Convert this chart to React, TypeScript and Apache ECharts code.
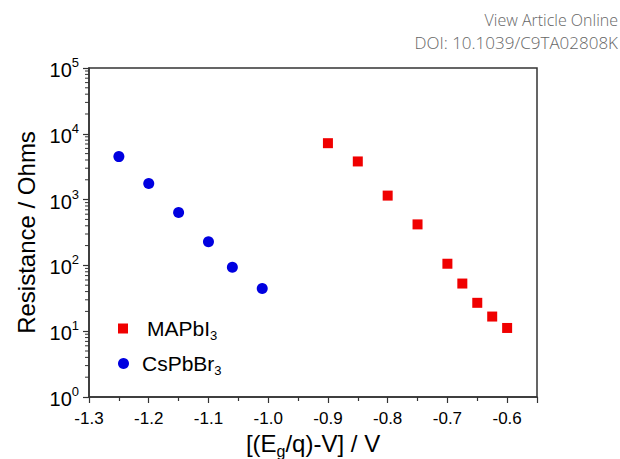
import React, { useEffect, useRef } from "react";
import * as echarts from "echarts";

const mapX = [-0.9, -0.85, -0.8, -0.75, -0.7, -0.675, -0.65, -0.625, -0.6];
const mapY = [7200, 3800, 1150, 420, 106, 53, 27, 16.7, 11.2];
const csX = [-1.25, -1.2, -1.15, -1.1, -1.06, -1.01];
const csY = [4500, 1750, 635, 228, 94, 44.5];
const seriesNames = ["MAPbI3", "CsPbBr3"];
const xMin = -1.3;
const xMax = -0.55;
const yMin = 1;
const yMax = 100000;
const minorMultipliers = [2, 3, 4, 5, 6, 7, 8, 9];
const decades = [1, 10, 100, 1000, 10000];

const FONT = "Liberation Sans, Arial, Helvetica";
const HEAD_FONT = "Open Sans, Lato, sans-serif";

export default function App() {
  const ref = useRef<HTMLDivElement>(null);
  useEffect(() => {
    if (!ref.current) return;
    const chart = echarts.init(ref.current, null, { renderer: "svg" });
    const minorY: number[][] = [];
    decades.forEach((d) => minorMultipliers.forEach((m) => minorY.push([xMin, m * d])));
    const legendRich = {
      t: { fontSize: 21, fontFamily: FONT, color: "#000" },
      sub: { fontSize: 13, fontFamily: FONT, color: "#000", verticalAlign: "top", padding: [14, 0, 0, 0] },
    };
    chart.setOption({
      animation: false,
      backgroundColor: "#fff",
      textStyle: { fontFamily: FONT },
      grid: {
        left: 89,
        top: 68,
        right: 83,
        bottom: 62,
        containLabel: false,
        outerBoundsMode: "none",
        show: true,
        borderColor: "#333",
        borderWidth: 1.5,
      },
      legend: [
        {
          orient: "vertical",
          left: 113,
          top: 313,
          itemWidth: 10,
          itemHeight: 10,
          data: [{ name: seriesNames[0], icon: "rect" }],
          formatter: () => "{t|MAPbI}{sub|3}",
          textStyle: { color: "#000", fontFamily: FONT, padding: [0, 0, 0, 14], rich: legendRich },
        },
        {
          orient: "vertical",
          left: 113,
          top: 348,
          itemWidth: 11,
          itemHeight: 11,
          data: [{ name: seriesNames[1], icon: "circle" }],
          formatter: () => "{t|CsPbBr}{sub|3}",
          textStyle: { color: "#000", fontFamily: FONT, padding: [0, 0, 0, 8], rich: legendRich },
        },
      ],
      xAxis: {
        type: "value",
        min: xMin,
        max: xMax,
        interval: 0.1,
        name: "{m|[(E}{s|g}{m|/q)-V] / V}",
        nameLocation: "middle",
        nameGap: 25,
        nameTextStyle: {
          rich: {
            m: { fontSize: 24, fontFamily: FONT, color: "#000" },
            s: { fontSize: 16, fontFamily: FONT, color: "#000", verticalAlign: "top", padding: [16, 0, 0, 0] },
          },
        },
        axisLine: { show: true, onZero: false, lineStyle: { color: "#333", width: 1.5 } },
        axisTick: { show: true, inside: false, length: 6, lineStyle: { color: "#333", width: 1.2 } },
        minorTick: { show: true, splitNumber: 2, length: 4, lineStyle: { color: "#333", width: 1.2 } },
        splitLine: { show: false },
        axisLabel: {
          fontSize: 17,
          color: "#000",
          fontFamily: FONT,
          margin: 13,
          formatter: (v: number) => {
            if (Math.abs(v * 10 - Math.round(v * 10)) > 1e-6) return "";
            return v.toFixed(1);
          },
        },
      },
      yAxis: {
        type: "log",
        logBase: 10,
        min: yMin,
        max: yMax,
        name: "Resistance / Ohms",
        nameLocation: "middle",
        nameGap: 49,
        nameTextStyle: { fontSize: 24, fontFamily: FONT, color: "#000" },
        axisLine: { show: true, lineStyle: { color: "#333", width: 1.5 } },
        axisTick: { show: true, inside: false, length: 6, lineStyle: { color: "#333", width: 1.2 } },
        splitLine: { show: false },
        axisLabel: {
          margin: 10,
          formatter: (v: number) => `{b|10}{s|${Math.round(Math.log10(v))}}`,
          rich: {
            b: { fontSize: 20, fontFamily: FONT, color: "#000", verticalAlign: "bottom" },
            s: { fontSize: 13, fontFamily: FONT, color: "#000", verticalAlign: "bottom", padding: [0, 0, 11, 0] },
          },
        },
      },
      series: [
        {
          name: seriesNames[0],
          type: "scatter",
          symbol: "rect",
          symbolSize: 10,
          itemStyle: { color: "#f00000", opacity: 1 },
          data: mapX.map((x, i) => [x, mapY[i]]),
        },
        {
          name: seriesNames[1],
          type: "scatter",
          symbol: "circle",
          symbolSize: 11,
          itemStyle: { color: "#0000e0", opacity: 1 },
          data: csX.map((x, i) => [x, csY[i]]),
        },
        {
          type: "custom",
          silent: true,
          clip: false,
          data: minorY,
          renderItem: (params: any, api: any) => {
            const p = api.coord([api.value(0), api.value(1)]);
            return {
              type: "line",
              shape: { x1: p[0] - 4, y1: p[1], x2: p[0], y2: p[1] },
              style: { stroke: "#333", lineWidth: 1 },
            };
          },
        },
      ],
      graphic: [
        {
          type: "text",
          x: 618,
          y: 20,
          style: {
            text: "View Article Online",
            fontSize: 16,
            fontFamily: HEAD_FONT,
            fontWeight: 300,
            fill: "#666",
            align: "right",
            verticalAlign: "middle",
          },
        },
        {
          type: "text",
          x: 618,
          y: 42,
          style: {
            text: "DOI: 10.1039/C9TA02808K",
            fontSize: 17,
            fontFamily: HEAD_FONT,
            fontWeight: 300,
            fill: "#666",
            align: "right",
            verticalAlign: "middle",
          },
        },
      ],
    });
    return () => chart.dispose();
  }, []);
  return <div ref={ref} style={{ position: "absolute", left: 0, top: 0, width: 620, height: 459 }} />;
}
